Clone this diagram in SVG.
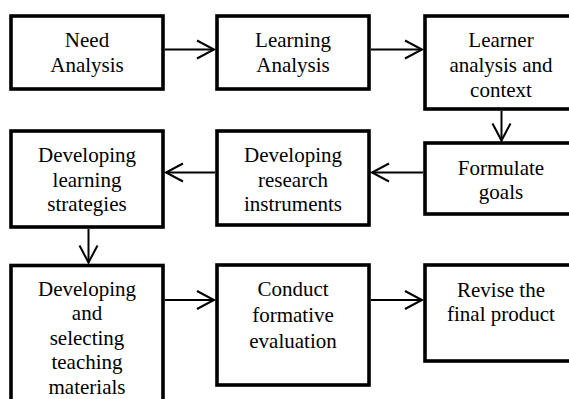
<svg xmlns="http://www.w3.org/2000/svg" width="569" height="399" viewBox="0 0 569 399">
<defs>
<style>
.box{fill:#fff;stroke:#000;stroke-width:3.6}
.lbl{font-family:"Liberation Serif","Times New Roman",serif;font-size:21px;fill:#000;text-anchor:middle}
.con{stroke:#000;stroke-width:2;fill:none}
</style>
<marker id="ah" markerUnits="userSpaceOnUse" viewBox="-20 -12 24 24" refX="0" refY="0" markerWidth="24" markerHeight="24" orient="auto" overflow="visible">
<path d="M-17,-9 L0,0 L-17,9" fill="none" stroke="#000" stroke-width="2"/>
</marker>
</defs>
<rect width="569" height="399" fill="#fff"/>
<g id="connectors">
<line class="con" x1="165" y1="49.5" x2="214" y2="49.5" marker-end="url(#ah)"/>
<line class="con" x1="371" y1="49.5" x2="422" y2="49.5" marker-end="url(#ah)"/>
<line class="con" x1="501.5" y1="111" x2="501.5" y2="140.5" marker-end="url(#ah)"/>
<line class="con" x1="423" y1="172.5" x2="372" y2="172.5" marker-end="url(#ah)"/>
<line class="con" x1="215" y1="172.5" x2="166" y2="172.5" marker-end="url(#ah)"/>
<line class="con" x1="88.5" y1="229" x2="88.5" y2="262.5" marker-end="url(#ah)"/>
<line class="con" x1="165" y1="300" x2="214" y2="300" marker-end="url(#ah)"/>
<line class="con" x1="371" y1="300" x2="422" y2="300" marker-end="url(#ah)"/>
</g>
<g id="need-analysis">
<rect class="box" x="11" y="16" width="152" height="73"/>
<text class="lbl" x="87" y="46.7">Need</text>
<text class="lbl" x="87" y="71.7">Analysis</text>
</g>
<g id="learning-analysis">
<rect class="box" x="217" y="16" width="152" height="73"/>
<text class="lbl" x="293" y="46.7">Learning</text>
<text class="lbl" x="293" y="71.7">Analysis</text>
</g>
<g id="learner-analysis">
<rect class="box" x="425" y="16" width="152" height="93"/>
<text class="lbl" x="501" y="46.7">Learner</text>
<text class="lbl" x="501" y="71.7">analysis and</text>
<text class="lbl" x="501" y="96.7">context</text>
</g>
<g id="formulate-goals">
<rect class="box" x="425" y="143" width="152" height="71"/>
<text class="lbl" x="501" y="175">Formulate</text>
<text class="lbl" x="501" y="199">goals</text>
</g>
<g id="research-instruments">
<rect class="box" x="217" y="131" width="152" height="94"/>
<text class="lbl" x="293" y="161.7">Developing</text>
<text class="lbl" x="293" y="186.5">research</text>
<text class="lbl" x="293" y="211">instruments</text>
</g>
<g id="learning-strategies">
<rect class="box" x="11" y="131" width="152" height="96"/>
<text class="lbl" x="87" y="161.7">Developing</text>
<text class="lbl" x="87" y="186.5">learning</text>
<text class="lbl" x="87" y="211">strategies</text>
</g>
<g id="teaching-materials">
<rect class="box" x="11" y="265.5" width="152" height="150"/>
<text class="lbl" x="87" y="295.5">Developing</text>
<text class="lbl" x="87" y="320">and</text>
<text class="lbl" x="87" y="344.5">selecting</text>
<text class="lbl" x="87" y="369">teaching</text>
<text class="lbl" x="87" y="393.5">materials</text>
</g>
<g id="formative-evaluation">
<rect class="box" x="217" y="265" width="152" height="120"/>
<text class="lbl" x="293" y="296">Conduct</text>
<text class="lbl" x="293" y="322">formative</text>
<text class="lbl" x="293" y="348">evaluation</text>
</g>
<g id="revise-product">
<rect class="box" x="425" y="265" width="152" height="96"/>
<text class="lbl" x="501" y="296.5">Revise the</text>
<text class="lbl" x="501" y="321">final product</text>
</g>
</svg>
